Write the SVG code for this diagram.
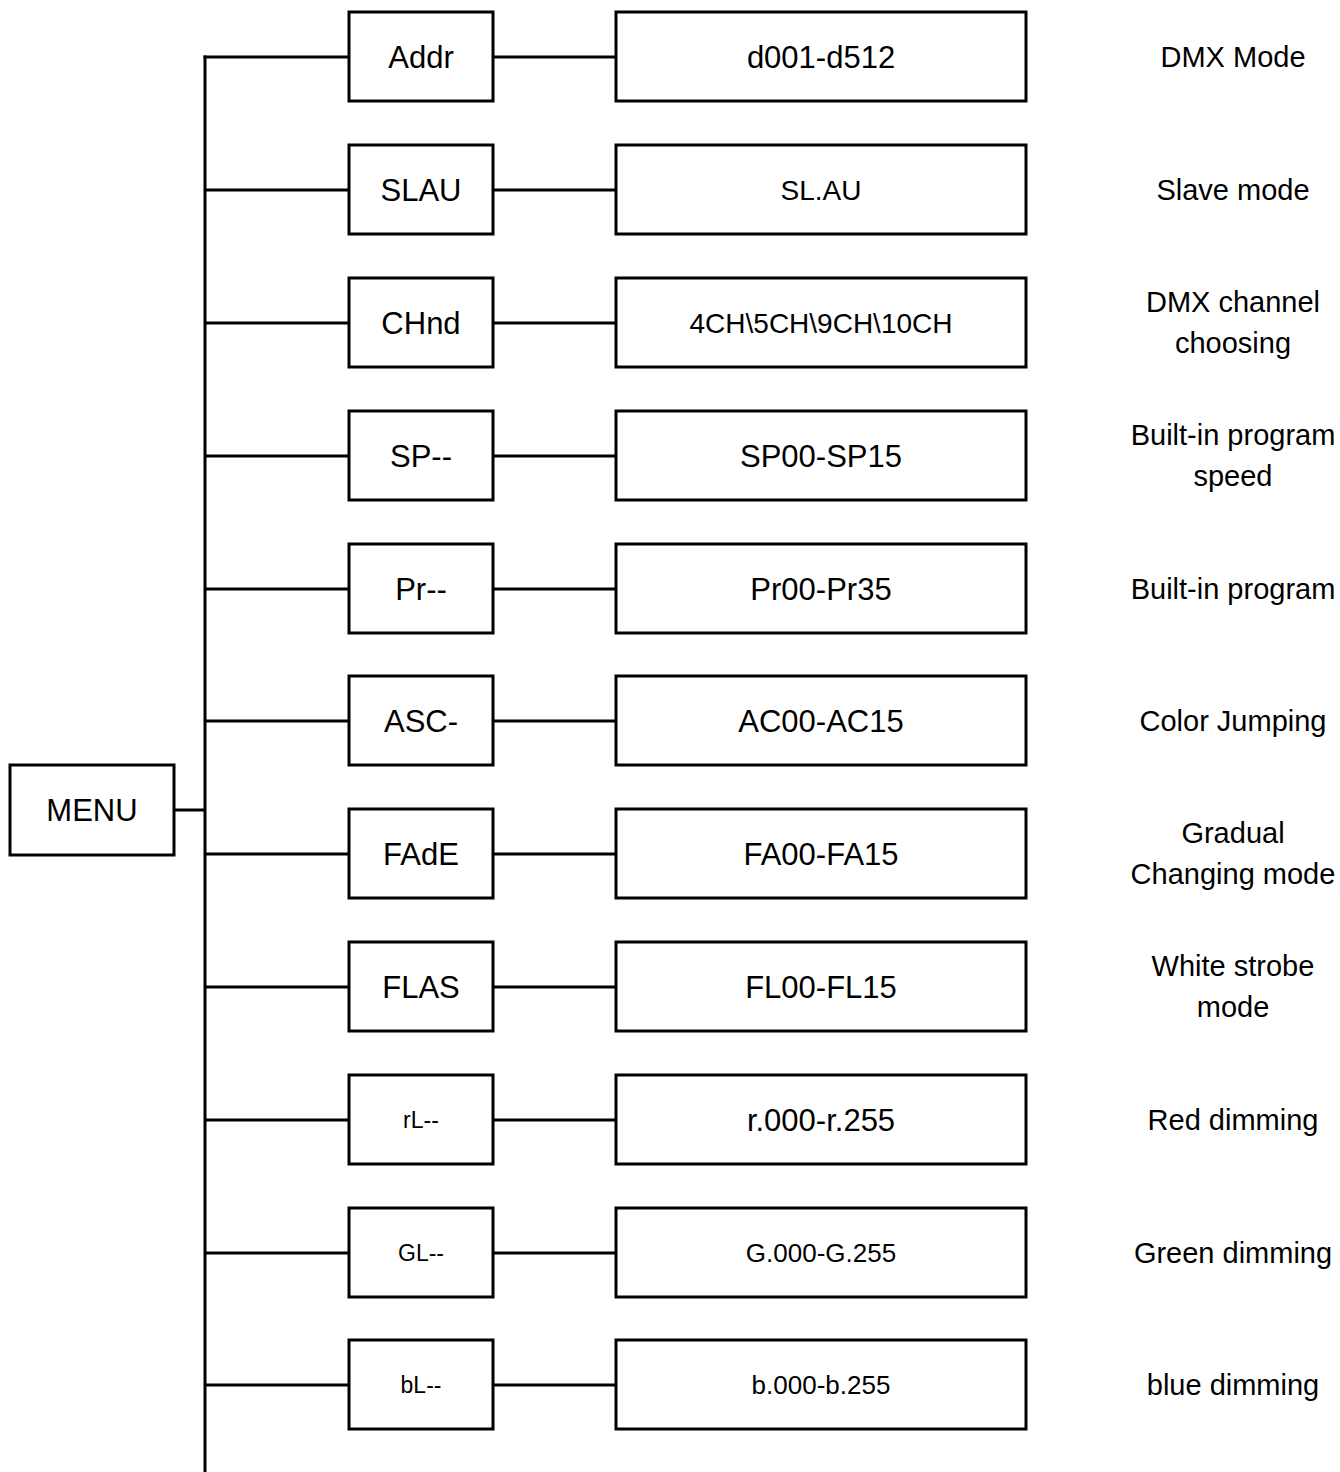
<svg xmlns="http://www.w3.org/2000/svg" width="1340" height="1472" viewBox="0 0 1340 1472">
<style>
.b{fill:#fff;stroke:#000;stroke-width:3}
.c line{stroke:#000;stroke-width:3}
text{font-family:"Liberation Sans",Arial,sans-serif;fill:#000;text-anchor:middle;dominant-baseline:central}
.l{font-size:31px}.m{font-size:28px}.g{font-size:26px}.s{font-size:23px}.r{font-size:29px}
</style>
<rect width="1340" height="1472" fill="#fff"/>
<g class="c" id="connectors">
<line x1="205" y1="55.5" x2="205" y2="1472"/>
<line x1="174" y1="810" x2="205" y2="810"/>
<line x1="203.5" y1="57" x2="349" y2="57"/><line x1="493" y1="57" x2="616" y2="57"/>
<line x1="205" y1="190" x2="349" y2="190"/><line x1="493" y1="190" x2="616" y2="190"/>
<line x1="205" y1="323" x2="349" y2="323"/><line x1="493" y1="323" x2="616" y2="323"/>
<line x1="205" y1="456" x2="349" y2="456"/><line x1="493" y1="456" x2="616" y2="456"/>
<line x1="205" y1="589" x2="349" y2="589"/><line x1="493" y1="589" x2="616" y2="589"/>
<line x1="205" y1="721" x2="349" y2="721"/><line x1="493" y1="721" x2="616" y2="721"/>
<line x1="205" y1="854" x2="349" y2="854"/><line x1="493" y1="854" x2="616" y2="854"/>
<line x1="205" y1="987" x2="349" y2="987"/><line x1="493" y1="987" x2="616" y2="987"/>
<line x1="205" y1="1120" x2="349" y2="1120"/><line x1="493" y1="1120" x2="616" y2="1120"/>
<line x1="205" y1="1253" x2="349" y2="1253"/><line x1="493" y1="1253" x2="616" y2="1253"/>
<line x1="205" y1="1385" x2="349" y2="1385"/><line x1="493" y1="1385" x2="616" y2="1385"/>
</g>
<g id="menu"><rect class="b" x="10" y="765" width="164" height="90"/><text class="l" x="92" y="810">MENU</text></g>

<g id="addr"><rect class="b" x="349" y="12" width="144" height="89"/><text class="l" x="421" y="57">Addr</text></g>
<g id="addr-val"><rect class="b" x="616" y="12" width="410" height="89"/><text class="l" x="821" y="57">d001-d512</text></g>
<g id="addr-desc"><text class="r" x="1233" y="57">DMX Mode</text></g>

<g id="slau"><rect class="b" x="349" y="145" width="144" height="89"/><text class="l" x="421" y="190">SLAU</text></g>
<g id="slau-val"><rect class="b" x="616" y="145" width="410" height="89"/><text class="m" x="821" y="190">SL.AU</text></g>
<g id="slau-desc"><text class="r" x="1233" y="190">Slave mode</text></g>

<g id="chnd"><rect class="b" x="349" y="278" width="144" height="89"/><text class="l" x="421" y="323">CHnd</text></g>
<g id="chnd-val"><rect class="b" x="616" y="278" width="410" height="89"/><text class="m" x="821" y="323">4CH\5CH\9CH\10CH</text></g>
<g id="chnd-desc"><text class="r" x="1233" y="302">DMX channel</text><text class="r" x="1233" y="343">choosing</text></g>

<g id="sp"><rect class="b" x="349" y="411" width="144" height="89"/><text class="l" x="421" y="456">SP--</text></g>
<g id="sp-val"><rect class="b" x="616" y="411" width="410" height="89"/><text class="l" x="821" y="456">SP00-SP15</text></g>
<g id="sp-desc"><text class="r" x="1233" y="435">Built-in program</text><text class="r" x="1233" y="476">speed</text></g>

<g id="pr"><rect class="b" x="349" y="544" width="144" height="89"/><text class="l" x="421" y="589">Pr--</text></g>
<g id="pr-val"><rect class="b" x="616" y="544" width="410" height="89"/><text class="l" x="821" y="589">Pr00-Pr35</text></g>
<g id="pr-desc"><text class="r" x="1233" y="589">Built-in program</text></g>

<g id="asc"><rect class="b" x="349" y="676" width="144" height="89"/><text class="l" x="421" y="721">ASC-</text></g>
<g id="asc-val"><rect class="b" x="616" y="676" width="410" height="89"/><text class="l" x="821" y="721">AC00-AC15</text></g>
<g id="asc-desc"><text class="r" x="1233" y="721">Color Jumping</text></g>

<g id="fade"><rect class="b" x="349" y="809" width="144" height="89"/><text class="l" x="421" y="854">FAdE</text></g>
<g id="fade-val"><rect class="b" x="616" y="809" width="410" height="89"/><text class="l" x="821" y="854">FA00-FA15</text></g>
<g id="fade-desc"><text class="r" x="1233" y="833">Gradual</text><text class="r" x="1233" y="874">Changing mode</text></g>

<g id="flas"><rect class="b" x="349" y="942" width="144" height="89"/><text class="l" x="421" y="987">FLAS</text></g>
<g id="flas-val"><rect class="b" x="616" y="942" width="410" height="89"/><text class="l" x="821" y="987">FL00-FL15</text></g>
<g id="flas-desc"><text class="r" x="1233" y="966">White strobe</text><text class="r" x="1233" y="1007">mode</text></g>

<g id="rl"><rect class="b" x="349" y="1075" width="144" height="89"/><text class="s" x="421" y="1120">rL--</text></g>
<g id="rl-val"><rect class="b" x="616" y="1075" width="410" height="89"/><text class="l" x="821" y="1120">r.000-r.255</text></g>
<g id="rl-desc"><text class="r" x="1233" y="1120">Red dimming</text></g>

<g id="gl"><rect class="b" x="349" y="1208" width="144" height="89"/><text class="s" x="421" y="1253">GL--</text></g>
<g id="gl-val"><rect class="b" x="616" y="1208" width="410" height="89"/><text class="g" x="821" y="1253">G.000-G.255</text></g>
<g id="gl-desc"><text class="r" x="1233" y="1253">Green dimming</text></g>

<g id="bl"><rect class="b" x="349" y="1340" width="144" height="89"/><text class="s" x="421" y="1385">bL--</text></g>
<g id="bl-val"><rect class="b" x="616" y="1340" width="410" height="89"/><text class="g" x="821" y="1385">b.000-b.255</text></g>
<g id="bl-desc"><text class="r" x="1233" y="1385">blue dimming</text></g>
</svg>
